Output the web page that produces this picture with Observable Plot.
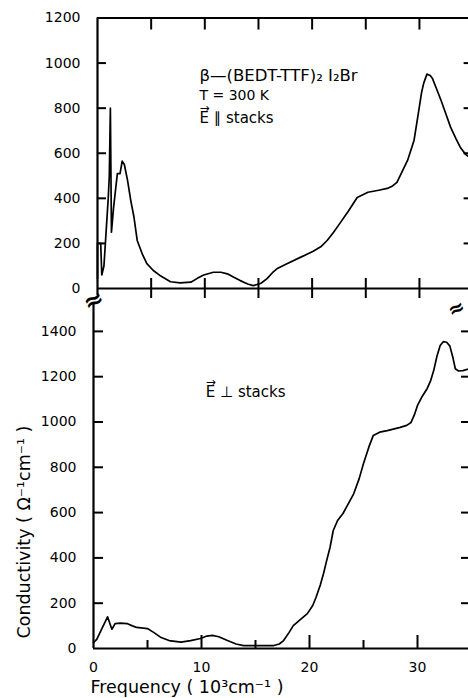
<!DOCTYPE html>
<html><head><meta charset="utf-8">
<script src="https://cdn.jsdelivr.net/npm/d3@7"></script>
<script src="https://cdn.jsdelivr.net/npm/@observablehq/plot@0.6"></script>
<style>
html,body{margin:0;padding:0;background:#fff;overflow:hidden;}
#c{position:relative;width:468px;height:698px;overflow:hidden;background:#fff;}
#c svg{position:absolute;left:0;}
g[aria-label="axis-title"] text{letter-spacing:1.2px;}
g[aria-label="note"] text{letter-spacing:0.6px;}
</style></head><body><div id="c"></div>
<script>
// E parallel to stacks (top panel)
const parFreq  = [0.0,0.0,0.3,0.4,0.6,1.0,1.1,1.2,1.3,1.5,1.85,2.1,2.3,2.5,2.8,3.1,3.4,3.7,4.2,4.6,5.2,5.9,6.8,7.7,8.7,9.3,9.9,10.8,11.5,12.1,12.7,13.3,14.0,14.5,15.2,15.8,16.3,16.8,17.7,18.9,20.1,20.8,21.4,22.0,22.6,23.4,24.2,25.2,26.2,27.0,27.5,27.9,28.4,28.9,29.5,29.9,30.2,30.4,30.7,31.0,31.2,31.6,32.0,32.5,32.9,33.4,33.8,34.3,34.8];
const parSigma = [44,200,200,60,100,400,500,800,250,360,510,510,565,550,480,390,316,213,150,110,80,55,30,25,28,45,60,72,72,65,50,35,20,13,22,44,70,90,111,138,165,185,213,250,290,345,404,427,436,444,455,471,520,569,658,778,870,911,951,945,933,885,836,770,716,665,627,595,578];
// E perpendicular to stacks (bottom panel)
const perpFreq  = [0.0,0.3,0.8,1.3,1.7,2.0,2.5,3.1,3.6,4.0,5.0,5.6,6.2,7.0,8.1,9.0,9.9,10.5,11.0,11.6,12.4,13.2,13.9,15.5,16.7,17.2,17.6,18.1,18.5,19.2,19.8,20.3,20.6,21.0,21.3,21.6,21.9,22.2,22.6,23.1,23.6,24.1,24.6,25.0,25.5,25.9,26.5,27.2,28.4,29.0,29.4,29.7,30.0,30.4,30.9,31.2,31.5,31.8,32.1,32.4,32.7,33.0,33.3,33.5,33.8,34.2,34.8];
const perpSigma = [26,40,90,140,85,110,112,110,100,93,88,70,50,35,28,35,44,55,58,52,35,20,13,13,13,20,35,70,101,130,154,190,225,280,331,390,446,521,565,596,640,684,750,817,890,940,955,962,976,985,998,1030,1073,1110,1148,1180,1227,1290,1338,1355,1352,1335,1280,1235,1225,1227,1235];

const topYTicks = [0,200,400,600,800,1000,1200];
const bottomYTicks = [0,200,400,600,800,1000,1200,1400];
const xTicks5 = [5,10,15,20,25,30];
const xMajorTicks = [10,20,30];
const xMinorTicks = [5,15,25];
const xLabelTicks = [0,10,20,30];

const topNotes = ["β—(BEDT-TTF)₂ I₂Br", "T = 300 K", "E ∥ stacks"];
const topNoteY = [942, 855, 756];
const topNoteSize = [16.5, 14, 15];
const bottomNote = "E ⊥ stacks";
const vectorArrow = "→";
const xLabel = "Frequency ( 10³cm⁻¹ )";
const yLabel = "Conductivity ( Ω⁻¹cm⁻¹ )";

const font = "'DejaVu Sans', 'Liberation Sans', Arial, sans-serif";
const par = parFreq.map((x, i) => ({x, y: parSigma[i]}));
const perp = perpFreq.map((x, i) => ({x, y: perpSigma[i]}));
const style = {fontFamily: font, background: "transparent", color: "#000", overflow: "visible"};
const AX = 2.2, TK = 2;

// top panel: 10.73 px per kcm-1, 0.225 px per S/cm
const tKx = 9 / 10.73, tKy = 10 / 0.225, tKyTop = 12 / 0.225;
const topPlot = Plot.plot({
  width: 468, height: 300,
  marginLeft: 97, marginRight: -4.6, marginTop: 17.5, marginBottom: 12,
  x: {domain: [0, 35], axis: null},
  y: {domain: [0, 1200], axis: null},
  style,
  marks: [
    Plot.line(par, {x: "x", y: "y", strokeWidth: 1.7, curve: "linear"}),
    Plot.text(topYTicks, {x: 0, y: d => d, text: d => String(d), dx: -17, textAnchor: "end", fontSize: 14}),
    Plot.text(topNotes, {x: 9.5, y: (d, i) => topNoteY[i], text: d => d, fontSize: (d, i) => topNoteSize[i], textAnchor: "start", ariaLabel: "note"}),
    Plot.text([vectorArrow], {x: 9.5, y: 756, dy: -10, text: d => d, fontSize: 12, textAnchor: "start"}),
    Plot.ruleY(topYTicks.slice(1, 6), {y: d => d, x1: 0, x2: tKx, strokeWidth: TK}),
    Plot.ruleY(topYTicks.slice(1, 6), {y: d => d, x1: 35 - tKx, x2: 35, strokeWidth: TK}),
    Plot.ruleX(xTicks5, {x: d => d, y1: 1200 - tKyTop, y2: 1200, strokeWidth: TK}),
    Plot.ruleX(xTicks5, {x: d => d, y1: -tKy, y2: tKy, strokeWidth: TK}),
    Plot.ruleY([1200], {x1: 0, x2: 35, strokeWidth: AX}),
    Plot.ruleY([0], {x1: 0, x2: 35, strokeWidth: AX}),
    Plot.ruleX([0], {y1: -32, y2: 1200, strokeWidth: AX})
  ]
});
topPlot.style.top = "0px";

// bottom panel: 10.8 px per kcm-1, 0.2265 px per S/cm
const bKx = 10 / 10.8, bKyMaj = 13 / 0.2265, bKyMin = 8 / 0.2265;
const bottomPlot = Plot.plot({
  width: 468, height: 418,
  marginLeft: 93, marginRight: -3, marginTop: 23.7, marginBottom: 50,
  x: {domain: [0, 35], axis: null},
  y: {domain: [0, 1520], axis: null},
  style,
  marks: [
    Plot.line(perp, {x: "x", y: "y", strokeWidth: 1.7, curve: "linear"}),
    Plot.text(bottomYTicks, {x: 0, y: d => d, text: d => String(d), dx: -17, textAnchor: "end", fontSize: 14}),
    Plot.text(xLabelTicks, {x: d => d, y: 0, text: d => String(d), dy: 19, fontSize: 14}),
    Plot.text([bottomNote], {x: 10.4, y: 1130, text: d => d, fontSize: 15, textAnchor: "start", ariaLabel: "note"}),
    Plot.text([vectorArrow], {x: 10.4, y: 1130, dy: -10, text: d => d, fontSize: 12, textAnchor: "start"}),
    Plot.text([xLabel], {x: 0, y: 0, dy: 39, dx: -3, text: d => d, fontSize: 17.5, textAnchor: "start", ariaLabel: "axis-title"}),
    Plot.text([yLabel], {x: 0, y: 514, dx: -69, rotate: -90, text: d => d, fontSize: 17.5, ariaLabel: "axis-title"}),
    Plot.text(["≈"], {x: 0, y: 1536, text: d => d, fontSize: 24, rotate: -25, fontWeight: "bold"}),
    Plot.text(["≈"], {x: 35, y: 1500, dx: -15, text: d => d, fontSize: 20, rotate: -25, fontWeight: "bold"}),
    Plot.ruleY(bottomYTicks.slice(1), {y: d => d, x1: 0, x2: bKx, strokeWidth: TK}),
    Plot.ruleY(bottomYTicks.slice(1), {y: d => d, x1: 35 - bKx, x2: 35, strokeWidth: TK}),
    Plot.ruleX(xMajorTicks, {x: d => d, y1: 0, y2: bKyMaj, strokeWidth: TK}),
    Plot.ruleX(xMinorTicks, {x: d => d, y1: 0, y2: bKyMin, strokeWidth: TK}),
    Plot.ruleY([0], {x1: 0, x2: 35, strokeWidth: AX}),
    Plot.ruleX([0], {y1: 0, y2: 1520, strokeWidth: AX})
  ]
});
bottomPlot.style.top = "280px";

const c = document.getElementById("c");
c.appendChild(topPlot);
c.appendChild(bottomPlot);
</script></body></html>
